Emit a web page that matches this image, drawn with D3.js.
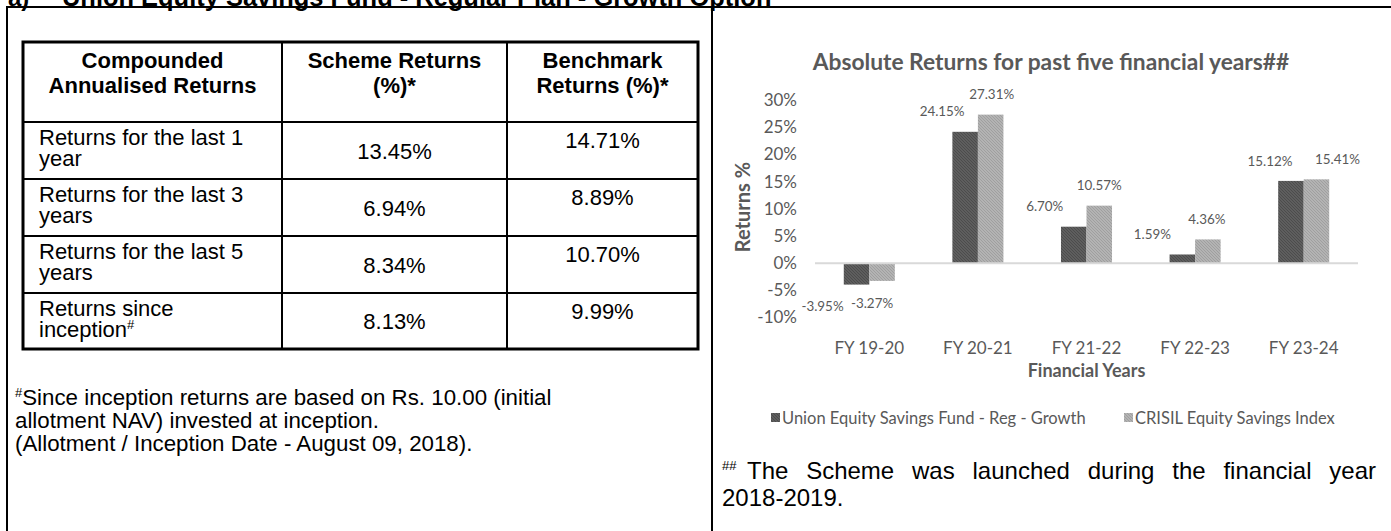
<!DOCTYPE html>
<html><head><meta charset="utf-8">
<script src="https://cdn.jsdelivr.net/npm/d3@7"></script>
<style>html,body{margin:0;padding:0;background:#fff;}svg{display:block}</style>
</head><body>
<svg id="c" width="1391" height="531"></svg>
<script>
// ---------------- DATA ----------------
const pageTitlePrefix = "a)";
const pageTitle = "Union Equity Savings Fund - Regular Plan - Growth Option";
const tableHeaders = [["Compounded", "Annualised Returns"], ["Scheme Returns", "(%)*"], ["Benchmark", "Returns (%)*"]];
const periodLabels = [["Returns for the last 1", "year"], ["Returns for the last 3", "years"], ["Returns for the last 5", "years"], ["Returns since", "inception"]];
const schemeReturns = ["13.45%", "6.94%", "8.34%", "8.13%"];
const benchmarkReturns = ["14.71%", "8.89%", "10.70%", "9.99%"];
const leftNotes = ["Since inception returns are based on Rs. 10.00 (initial", "allotment NAV) invested at inception.", "(Allotment / Inception Date - August 09, 2018)."];
const chartTitle = "Absolute Returns for past five financial years##";
const categories = ["FY 19-20", "FY 20-21", "FY 21-22", "FY 22-23", "FY 23-24"];
const seriesNames = ["Union Equity Savings Fund - Reg - Growth", "CRISIL Equity Savings Index"];
const fundReturns = [-3.95, 24.15, 6.70, 1.59, 15.12];
const indexReturns = [-3.27, 27.31, 10.57, 4.36, 15.41];
const yTicks = [-10, -5, 0, 5, 10, 15, 20, 25, 30];
const yTitle = "Returns %";
const xTitle = "Financial Years";
const rightNote = ["The Scheme was launched during the financial year", "2018-2019."];

// ---------------- LAYOUT ----------------
const ARIAL = "'Liberation Sans', Arial, Helvetica, sans-serif";
const CAL = "Lato, 'Open Sans', sans-serif";
const GREY = "#595959";
const colEdges = [23, 282, 507, 698];
const rowEdges = [42, 122, 179, 236, 293, 349];
const tableFont = 22;
const plot = {left: 815, right: 1358, top: 100, bottom: 317.5};
const labelShiftX = [[-34, -23, -29, -30, -21], [-10, 1, 0, -1, 21]];

const svg = d3.select("#c");

// bar textures
const defs = svg.append("defs");
[["#5e5e5e", "#4c4c4c"], ["#b3b3b3", "#9f9f9f"]].forEach((c, s) => {
  const p = defs.append("pattern").attr("id", "tex" + s).attr("patternUnits", "userSpaceOnUse").attr("width", 3).attr("height", 3);
  p.append("rect").attr("width", 3).attr("height", 3).attr("fill", c[0]);
  [0, 1, 2].forEach(k => p.append("rect").attr("x", k).attr("y", k).attr("width", 1).attr("height", 1).attr("fill", c[1]));
});

// page title (cut off at top)
svg.append("text").attr("x", 8).attr("y", 6).attr("font-family", ARIAL).attr("font-weight", "bold")
  .attr("font-size", 24).text(pageTitlePrefix);
const pt = svg.append("text").attr("x", 62).attr("y", 6).attr("font-family", ARIAL).attr("font-weight", "bold")
  .attr("font-size", 24).text(pageTitle);
pt.attr("font-size", 24 * 710 / pt.node().getComputedTextLength());

// frame
svg.append("path").attr("d", "M7,531 V7 H1391").attr("fill", "none").attr("stroke", "#000").attr("stroke-width", 2);
svg.append("line").attr("x1", 712).attr("x2", 712).attr("y1", 7).attr("y2", 531).attr("stroke", "#000").attr("stroke-width", 2);

// ---------------- TABLE ----------------
const tbl = svg.append("g");
rowEdges.slice(1, -1).forEach(y => tbl.append("line").attr("x1", colEdges[0]).attr("x2", colEdges[3]).attr("y1", y).attr("y2", y).attr("stroke", "#000").attr("stroke-width", 2));
colEdges.slice(1, -1).forEach(x => tbl.append("line").attr("x1", x).attr("x2", x).attr("y1", rowEdges[0]).attr("y2", rowEdges[rowEdges.length - 1]).attr("stroke", "#000").attr("stroke-width", 2));
tbl.append("rect").attr("x", colEdges[0]).attr("y", rowEdges[0]).attr("width", colEdges[3] - colEdges[0])
  .attr("height", rowEdges[rowEdges.length - 1] - rowEdges[0]).attr("fill", "none").attr("stroke", "#000").attr("stroke-width", 3);

tableHeaders.forEach((lines, c) => {
  const cx = (colEdges[c] + colEdges[c + 1]) / 2;
  lines.forEach((t, i) => tbl.append("text").attr("x", cx).attr("y", rowEdges[0] + 26 + i * 25)
    .attr("text-anchor", "middle").attr("font-family", ARIAL).attr("font-weight", "bold").attr("font-size", tableFont).text(t));
});
periodLabels.forEach((lines, r) => {
  const top = rowEdges[r + 1];
  lines.forEach((t, i) => {
    const tx = tbl.append("text").attr("x", colEdges[0] + 16).attr("y", top + 23 + i * 21)
      .attr("font-family", ARIAL).attr("font-size", tableFont).text(t);
    if (r === 3 && i === 1) tx.append("tspan").attr("font-size", 13).attr("dy", -8).text("#");
  });
  const mid = (rowEdges[r + 1] + rowEdges[r + 2]) / 2;
  tbl.append("text").attr("x", (colEdges[1] + colEdges[2]) / 2).attr("y", mid + 8).attr("text-anchor", "middle")
    .attr("font-family", ARIAL).attr("font-size", tableFont).text(schemeReturns[r]);
  tbl.append("text").attr("x", (colEdges[2] + colEdges[3]) / 2).attr("y", top + 26).attr("text-anchor", "middle")
    .attr("font-family", ARIAL).attr("font-size", tableFont).text(benchmarkReturns[r]);
});

// left notes
leftNotes.forEach((t, i) => {
  const tx = svg.append("text").attr("x", 15).attr("y", 405 + i * 23).attr("font-family", ARIAL).attr("font-size", 22.3);
  if (i === 0) { tx.append("tspan").attr("font-size", 13).attr("dy", -8).text("#"); tx.append("tspan").attr("dy", 8).text(t); }
  else tx.text(t);
});

// ---------------- CHART ----------------
const ch = svg.append("g");
const x0 = d3.scaleBand().domain(categories).range([plot.left, plot.right]).paddingInner(0.53).paddingOuter(0.265);
const x1 = d3.scaleBand().domain([0, 1]).range([0, x0.bandwidth()]);
const y = d3.scaleLinear().domain([-10, 30]).range([plot.bottom, plot.top]);

const ya = ch.append("g").attr("transform", `translate(${plot.left - 10},0)`)
  .call(d3.axisLeft(y).tickValues(yTicks).tickSize(0).tickPadding(8).tickFormat(d => d + "%"));
ya.select(".domain").remove();
ya.selectAll("text").attr("font-family", CAL).attr("font-size", 17).attr("fill", GREY);

const series = [fundReturns, indexReturns];
series.forEach((vals, s) => {
  ch.selectAll(null).data(vals).enter().append("rect")
    .attr("x", (d, i) => x0(categories[i]) + x1(s))
    .attr("width", x1.bandwidth())
    .attr("y", d => y(Math.max(0, d)))
    .attr("height", d => Math.abs(y(d) - y(0)))
    .attr("fill", `url(#tex${s})`);
});
ch.append("line").attr("x1", plot.left).attr("x2", plot.right).attr("y1", y(0)).attr("y2", y(0)).attr("stroke", "#d9d9d9").attr("stroke-width", 2);

series.forEach((vals, s) => {
  ch.selectAll(null).data(vals).enter().append("text")
    .attr("x", (d, i) => x0(categories[i]) + x1(s) + x1.bandwidth() / 2 + labelShiftX[s][i])
    .attr("y", d => d >= 0 ? y(d) - 20 : y(d) + 22)
    .attr("dy", "0.35em").attr("text-anchor", "middle")
    .attr("font-family", CAL).attr("font-size", 13.4).attr("fill", GREY)
    .text(d => d.toFixed(2) + "%");
});

const xa = ch.append("g").attr("transform", `translate(0,${plot.bottom + 24})`)
  .call(d3.axisBottom(x0).tickSize(0).tickPadding(0));
xa.select(".domain").remove();
xa.selectAll("text").attr("font-family", CAL).attr("font-size", 17).attr("fill", GREY);

const ct = ch.append("text").attr("x", 1051).attr("y", 70).attr("text-anchor", "middle")
  .attr("font-family", CAL).attr("font-weight", "bold").attr("font-size", 20).attr("fill", GREY).text(chartTitle);
ct.attr("font-size", 20 * 477 / ct.node().getComputedTextLength());
ch.append("text").attr("transform", "translate(743,207) rotate(-90)").attr("text-anchor", "middle").attr("dy", "0.35em")
  .attr("font-family", CAL).attr("font-weight", "bold").attr("font-size", 20).attr("fill", GREY).text(yTitle);
ch.append("text").attr("x", (plot.left + plot.right) / 2).attr("y", 377).attr("text-anchor", "middle")
  .attr("font-family", CAL).attr("font-weight", "bold").attr("font-size", 18).attr("fill", GREY).text(xTitle);

const legX = [771, 1124];
seriesNames.forEach((n, s) => {
  ch.append("rect").attr("x", legX[s]).attr("y", 413).attr("width", 9).attr("height", 9).attr("fill", `url(#tex${s})`);
  ch.append("text").attr("x", legX[s] + 11).attr("y", 418).attr("dy", "0.35em")
    .attr("font-family", CAL).attr("font-size", 16.5).attr("fill", GREY).text(n);
});

// right note (justified first line)
(function () {
  const left = 722, right = 1376, base = 479;
  const g = svg.append("g");
  g.append("text").attr("x", left).attr("y", base - 9).attr("font-family", ARIAL).attr("font-size", 13).text("##");
  const words = rightNote[0].split(" ");
  const startX = left + 25;
  const tmp = words.map(w => g.append("text").attr("y", base).attr("font-family", ARIAL).attr("font-size", 24).text(w));
  const widths = tmp.map(t => t.node().getComputedTextLength());
  const gap = (right - startX - d3.sum(widths)) / (words.length - 1);
  let cx = startX;
  tmp.forEach((t, i) => { t.attr("x", cx); cx += widths[i] + gap; });
  g.append("text").attr("x", left).attr("y", base + 27).attr("font-family", ARIAL).attr("font-size", 24).text(rightNote[1]);
})();
</script>
</body></html>
